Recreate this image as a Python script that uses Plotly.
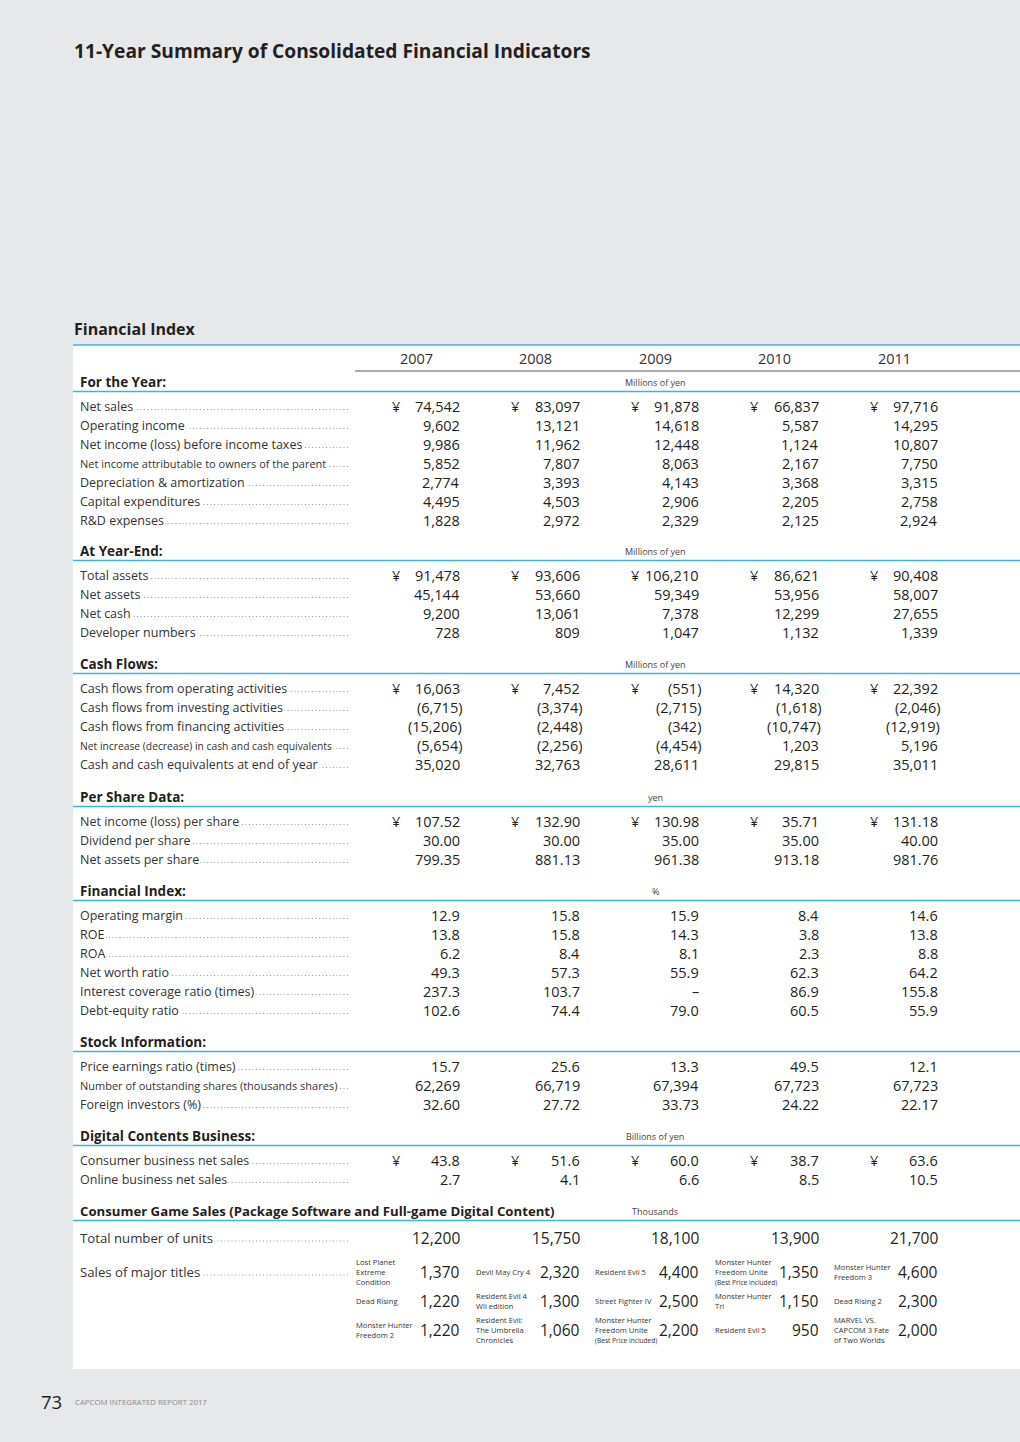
import plotly.graph_objects as go

# ---- data -------------------------------------------------------------
YEARS = ["2007", "2008", "2009", "2010", "2011"]

FOR_YEAR_LABELS = ["Net sales", "Operating income", "Net income (loss) before income taxes",
                   "Net income attributable to owners of the parent", "Depreciation & amortization",
                   "Capital expenditures", "R&D expenses"]
FOR_YEAR_VALUES = [[74542, 83097, 91878, 66837, 97716],
                   [9602, 13121, 14618, 5587, 14295],
                   [9986, 11962, 12448, 1124, 10807],
                   [5852, 7807, 8063, 2167, 7750],
                   [2774, 3393, 4143, 3368, 3315],
                   [4495, 4503, 2906, 2205, 2758],
                   [1828, 2972, 2329, 2125, 2924]]

YEAR_END_LABELS = ["Total assets", "Net assets", "Net cash", "Developer numbers"]
YEAR_END_VALUES = [[91478, 93606, 106210, 86621, 90408],
                   [45144, 53660, 59349, 53956, 58007],
                   [9200, 13061, 7378, 12299, 27655],
                   [728, 809, 1047, 1132, 1339]]

CASH_FLOW_LABELS = ["Cash flows from operating activities", "Cash flows from investing activities",
                    "Cash flows from financing activities",
                    "Net increase (decrease) in cash and cash equivalents",
                    "Cash and cash equivalents at end of year"]
CASH_FLOW_VALUES = [[16063, 7452, -551, 14320, 22392],
                    [-6715, -3374, -2715, -1618, -2046],
                    [-15206, -2448, -342, -10747, -12919],
                    [-5654, -2256, -4454, 1203, 5196],
                    [35020, 32763, 28611, 29815, 35011]]

PER_SHARE_LABELS = ["Net income (loss) per share", "Dividend per share", "Net assets per share"]
PER_SHARE_VALUES = [[107.52, 132.90, 130.98, 35.71, 131.18],
                    [30.00, 30.00, 35.00, 35.00, 40.00],
                    [799.35, 881.13, 961.38, 913.18, 981.76]]

FIN_INDEX_LABELS = ["Operating margin", "ROE", "ROA", "Net worth ratio",
                    "Interest coverage ratio (times)", "Debt-equity ratio"]
FIN_INDEX_VALUES = [[12.9, 15.8, 15.9, 8.4, 14.6],
                    [13.8, 15.8, 14.3, 3.8, 13.8],
                    [6.2, 8.4, 8.1, 2.3, 8.8],
                    [49.3, 57.3, 55.9, 62.3, 64.2],
                    [237.3, 103.7, None, 86.9, 155.8],
                    [102.6, 74.4, 79.0, 60.5, 55.9]]

STOCK_LABELS = ["Price earnings ratio (times)", "Number of outstanding shares (thousands shares)",
                "Foreign investors (%)"]
STOCK_VALUES = [[15.7, 25.6, 13.3, 49.5, 12.1],
                [62269, 66719, 67394, 67723, 67723],
                [32.60, 27.72, 33.73, 24.22, 22.17]]

DIGITAL_LABELS = ["Consumer business net sales", "Online business net sales"]
DIGITAL_VALUES = [[43.8, 51.6, 60.0, 38.7, 63.6],
                  [2.7, 4.1, 6.6, 8.5, 10.5]]

TOTAL_UNITS = [12200, 15750, 18100, 13900, 21700]
# top titles per year (rank 1..3)
BEST_PRICE = "<span style='font-size:6.6px'>(Best Price included)</span>"
TITLE_NAMES = [
    ["Lost Planet<br>Extreme<br>Condition", "Devil May Cry 4", "Resident Evil 5",
     "Monster Hunter<br>Freedom Unite<br>" + BEST_PRICE, "Monster Hunter<br>Freedom 3"],
    ["Dead Rising", "Resident Evil 4<br>Wii edition", "Street Fighter IV", "Monster Hunter<br>Tri",
     "Dead Rising 2"],
    ["Monster Hunter<br>Freedom 2", "Resident Evil:<br>The Umbrella<br>Chronicles",
     "Monster Hunter<br>Freedom Unite<br>" + BEST_PRICE, "Resident Evil 5",
     "MARVEL VS.<br>CAPCOM 3 Fate<br>of Two Worlds"],
]
TITLE_UNITS = [[1370, 2320, 4400, 1350, 4600],
               [1220, 1300, 2500, 1150, 2300],
               [1220, 1060, 2200, 950, 2000]]

SECTIONS = [
    # title, unit, labels, values, decimals per row, yen on first row
    ("For the Year:", "Millions of yen", FOR_YEAR_LABELS, FOR_YEAR_VALUES, [0] * 7, True),
    ("At Year-End:", "Millions of yen", YEAR_END_LABELS, YEAR_END_VALUES, [0] * 4, True),
    ("Cash Flows:", "Millions of yen", CASH_FLOW_LABELS, CASH_FLOW_VALUES, [0] * 5, True),
    ("Per Share Data:", "yen", PER_SHARE_LABELS, PER_SHARE_VALUES, [2] * 3, True),
    ("Financial Index:", "%", FIN_INDEX_LABELS, FIN_INDEX_VALUES, [1] * 6, False),
    ("Stock Information:", "", STOCK_LABELS, STOCK_VALUES, [1, 0, 2], False),
    ("Digital Contents Business:", "Billions of yen", DIGITAL_LABELS, DIGITAL_VALUES, [1, 1], True),
]

# ---- styling / layout -------------------------------------------------
FONT = "Open Sans"
INK = "#231f20"
LABEL_INK = "#333333"
BLUE = "#3db3e4"
PAGE = "#e7e8ea"
SMALL_LABELS = {"Net income attributable to owners of the parent": 11,
                "Net increase (decrease) in cash and cash equivalents": 10.3,
                "Number of outstanding shares (thousands shares)": 11}

COL_RIGHT = [462 + i * 119.5 for i in range(5)]
HEADER_Y = [382, 551, 664, 797, 891, 1042, 1136, 1211]   # section header rows on the page
LEFT = 73
RIGHT = 1020
LABEL_X = 79
LEADER_END = 348
ROW_H = 19


def fmt(v, dec):
    if v is None:
        return "–"
    s = f"{abs(v):,.{dec}f}"
    return f"({s})" if v < 0 else s


annotations = []
shapes = []


def text(x, y, s, size, color=INK, anchor="left", bold=False, bg=None, yanchor="middle"):
    annotations.append(dict(
        x=x, y=y, xref="x", yref="y", text=f"<b>{s}</b>" if bold else s, showarrow=False,
        xanchor=anchor, yanchor=yanchor, font=dict(family=FONT, size=size, color=color),
        bgcolor=bg, borderpad=1, align="left",
    ))


def hline(y, x0, x1, color=BLUE, width=1.5, dash=None):
    shapes.append(dict(type="line", xref="x", yref="y", x0=x0, x1=x1, y0=y, y1=y,
                       line=dict(color=color, width=width, dash=dash), layer="above"))


def label_row(y, label, size=12.5):
    # dotted leader drawn under the label; label background hides the dots behind it
    hline(y + 3, LABEL_X + 2, LEADER_END, color="#9a9a9a", width=1, dash="1px,2.5px")
    text(LABEL_X - 1, y, label, size, color=LABEL_INK, bg="white")


# white panel
shapes.append(dict(type="rect", xref="x", yref="y", x0=LEFT, x1=RIGHT, y0=345, y1=1369,
                   fillcolor="white", line=dict(width=0), layer="below"))

text(LEFT - 1, 50, "11-Year Summary of Consolidated Financial Indicators", 19.2, bold=True)
text(LEFT - 1, 329, "Financial Index", 16, bold=True)

hline(345, LEFT, RIGHT)
for i, yr in enumerate(YEARS):
    text(COL_RIGHT[i] - 46, 358, yr, 14.5, color="#333333", anchor="center")
hline(371, 355, RIGHT, color="#555555", width=1)

for (title, unit, labels, values, decs, yen), y in zip(SECTIONS, HEADER_Y):
    text(LABEL_X - 1, y, title, 13.5, bold=True)
    if unit:
        text(655, y, unit, 9, color="#444444", anchor="center")
    hline(y + 9.5, LEFT, RIGHT)
    ry = y + 24.5
    for r, (label, row) in enumerate(zip(labels, values)):
        label_row(ry, label, SMALL_LABELS.get(label, 12.5))
        for c, v in enumerate(row):
            if v is None:
                text(COL_RIGHT[c] - 6, ry, fmt(v, decs[r]), 14.5, anchor="center")
            else:
                text(COL_RIGHT[c] + (2 if v < 0 else 0), ry, fmt(v, decs[r]), 14.5, anchor="right")
            if yen and r == 0:
                text(COL_RIGHT[c] - 66, ry, "¥", 14.5, anchor="center")
        ry += ROW_H

# consumer game sales
y = HEADER_Y[-1]
text(LABEL_X - 1, y, "Consumer Game Sales (Package Software and Full-game Digital Content)", 13.2, bold=True)
text(655, y, "Thousands", 9, color="#444444", anchor="center")
hline(y + 9.5, LEFT, RIGHT)
ry = y + 27
label_row(ry, "Total number of units", 13.2)
for c, v in enumerate(TOTAL_UNITS):
    text(COL_RIGHT[c], ry, fmt(v, 0), 15.5, anchor="right")
ry += 34
label_row(ry, "Sales of major titles", 13.2)
for r in range(3):
    for c in range(5):
        text(COL_RIGHT[c] - 108, ry, TITLE_NAMES[r][c], 7.6, color="#333333")
        text(COL_RIGHT[c], ry, fmt(TITLE_UNITS[r][c], 0), 15.5, anchor="right")
    ry += 29

# footer
text(39, 1401, "73", 18.5, color=INK)
text(LEFT, 1402, "CAPCOM INTEGRATED REPORT 2017", 7.8, color="#8a8a8a")

fig = go.Figure()
fig.update_layout(
    width=1020, height=1442,
    margin=dict(l=0, r=0, t=0, b=0),
    paper_bgcolor=PAGE, plot_bgcolor=PAGE,
    xaxis=dict(range=[0, 1020], visible=False, fixedrange=True),
    yaxis=dict(range=[1442, 0], visible=False, fixedrange=True),
    annotations=annotations, shapes=shapes,
    showlegend=False,
)
fig.write_html("out.html", config={"displayModeBar": False},
               post_script="document.body.style.margin='0px';document.body.style.background='%s';" % PAGE)
